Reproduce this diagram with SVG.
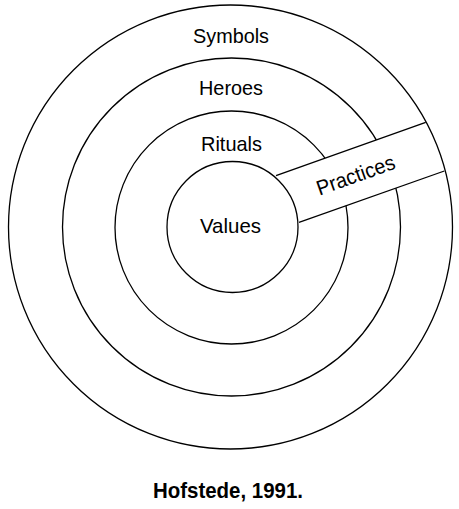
<svg xmlns="http://www.w3.org/2000/svg" width="459" height="509" viewBox="0 0 459 509">
<style>
.ring{fill:none;stroke:#000;stroke-width:1.3}
.edge{stroke:#000;stroke-width:1.3;fill:none}
.lbl{font-family:"Liberation Sans",Arial,sans-serif;font-size:21px;fill:#000;text-anchor:middle}
.cap{font-family:"Liberation Sans",Arial,sans-serif;font-size:22px;font-weight:bold;fill:#000;text-anchor:middle}
</style>
<rect width="459" height="509" fill="#fff"/>
<g id="heroes"><circle class="ring" cx="231.5" cy="227" r="169"/><text class="lbl" x="231" y="95" textLength="64" lengthAdjust="spacingAndGlyphs">Heroes</text></g>
<g id="rituals"><circle class="ring" cx="231.5" cy="227.5" r="116.5"/><text class="lbl" x="231.5" y="151" textLength="61" lengthAdjust="spacingAndGlyphs">Rituals</text></g>
<g id="practices">
<polygon points="276,175.7 425.7,122.3 444.3,171 299,222.3" fill="#fff" stroke="none"/>
<g class="edges"><line class="edge" x1="276" y1="175.7" x2="425.7" y2="122.3"/><line class="edge" x1="299" y1="222.3" x2="444.3" y2="171"/></g>
<text class="lbl" x="358" y="182" transform="rotate(-19.6 358 182)" textLength="82" lengthAdjust="spacingAndGlyphs">Practices</text>
</g>
<g id="values"><circle class="ring" cx="232.5" cy="227" r="65.5"/><text class="lbl" x="230.5" y="233" textLength="61" lengthAdjust="spacingAndGlyphs">Values</text></g>
<g id="symbols"><circle class="ring" cx="230.5" cy="227" r="222"/><text class="lbl" x="231" y="42.5" textLength="76" lengthAdjust="spacingAndGlyphs">Symbols</text></g>
<text class="cap" x="228" y="498" textLength="150" lengthAdjust="spacingAndGlyphs">Hofstede, 1991.</text>
</svg>
